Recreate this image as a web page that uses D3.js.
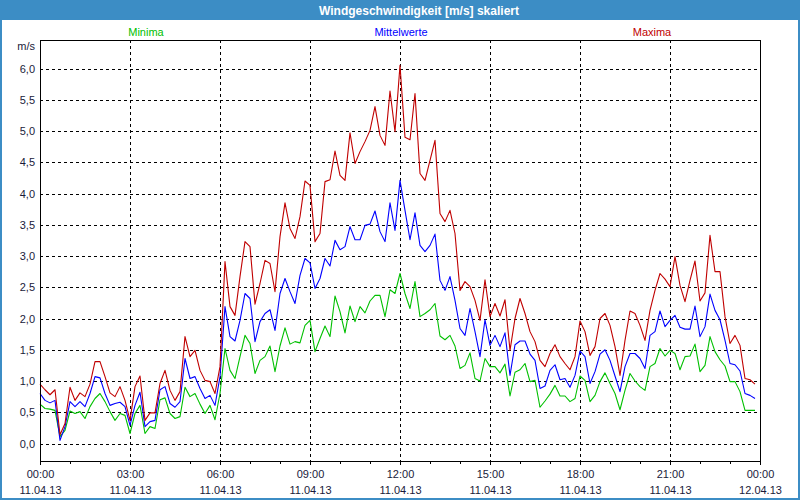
<!DOCTYPE html>
<html>
<head>
<meta charset="utf-8">
<script src="https://cdn.jsdelivr.net/npm/d3@7"></script>
<style>
  body { margin: 0; background: #fff; }
  svg text { font-family: "Liberation Sans", Arial, sans-serif; font-size: 11px; fill: #1a1a3a; }
</style>
</head>
<body>
<div id="chart"></div>
<script>
// 10-minute values, 11.04.13 00:00 .. 23:50
const minima = [0.63,0.56,0.55,0.53,0.11,0.21,0.52,0.48,0.51,0.40,0.59,0.72,0.80,0.67,0.51,0.37,0.48,0.45,0.16,0.48,
  0.61,0.16,0.27,0.24,0.70,0.73,0.48,0.40,0.43,0.90,0.75,0.80,0.63,0.48,0.61,0.38,0.80,1.52,1.17,1.04,
  1.39,1.73,1.60,1.12,1.33,1.39,1.56,1.15,1.56,1.85,1.59,1.63,1.61,1.89,1.97,1.47,1.68,1.88,1.71,2.36,
  2.11,1.77,2.20,1.95,2.19,2.09,2.28,2.37,2.37,2.03,2.46,2.40,2.72,2.40,2.16,2.59,2.03,2.08,2.14,2.24,
  1.72,1.66,1.73,1.56,1.20,1.25,1.45,1.04,1.00,1.36,1.23,1.23,1.13,1.27,0.76,1.14,1.18,1.28,0.99,1.01,
  0.58,0.68,0.79,0.93,0.76,0.76,0.67,0.72,1.08,1.01,0.67,0.77,0.99,1.13,0.96,0.80,0.54,0.85,1.12,1.00,
  0.91,0.85,1.23,1.28,1.52,1.40,1.49,1.44,1.18,1.39,1.40,1.59,1.15,1.25,1.71,1.47,1.34,1.24,0.99,0.99,
  0.83,0.53,0.53,0.53];
const mittelwerte = [0.80,0.69,0.65,0.69,0.05,0.27,0.67,0.59,0.67,0.59,0.80,1.07,1.05,0.80,0.61,0.64,0.66,0.59,0.29,0.61,
  0.82,0.27,0.35,0.37,0.86,0.91,0.64,0.58,0.67,1.36,1.04,1.07,0.88,0.72,0.77,0.61,1.07,2.19,1.71,1.64,
  1.97,2.40,2.32,1.63,1.95,2.08,2.14,1.81,2.40,2.64,2.43,2.24,2.69,2.96,2.89,2.48,2.64,2.96,2.84,3.25,
  3.10,3.15,3.47,3.26,3.26,3.49,3.51,3.72,3.39,3.23,3.85,3.41,4.21,3.73,3.26,3.69,3.17,3.07,3.17,3.35,
  2.61,2.45,2.67,2.29,1.84,1.73,2.16,1.79,1.39,1.98,1.57,1.73,1.55,1.77,1.09,1.58,1.64,1.64,1.43,1.33,
  0.88,0.92,1.17,1.26,1.02,1.04,0.90,1.09,1.48,1.39,0.96,1.15,1.43,1.50,1.33,1.08,0.83,1.23,1.44,1.44,
  1.36,1.20,1.73,1.79,2.12,1.87,1.97,2.05,1.86,1.83,1.83,2.20,1.71,1.87,2.39,2.13,1.98,1.65,1.28,1.26,
  1.16,0.80,0.77,0.72];
const maxima = [0.95,0.86,0.78,0.86,0.14,0.32,0.90,0.69,0.81,0.75,0.95,1.31,1.31,1.07,0.81,0.75,0.91,0.69,0.37,0.91,
  1.08,0.37,0.49,0.49,0.96,1.17,0.85,0.69,0.83,1.71,1.39,1.49,1.17,1.01,0.99,0.80,1.23,2.91,2.19,2.05,
  2.67,3.23,3.15,2.23,2.56,2.93,2.88,2.43,3.31,3.85,3.44,3.28,3.63,4.20,4.13,3.23,3.36,4.19,4.22,4.68,
  4.29,4.21,4.97,4.48,4.67,4.83,5.01,5.39,4.93,4.77,5.64,4.99,6.05,4.90,4.86,5.60,4.32,4.21,4.53,4.85,
  3.68,3.55,3.73,3.36,2.45,2.59,2.51,2.29,1.97,2.62,2.03,2.24,2.04,2.30,1.49,2.00,2.32,2.08,1.79,1.63,
  1.33,1.23,1.44,1.58,1.39,1.28,1.18,1.39,1.96,1.79,1.41,1.55,2.00,2.08,1.89,1.55,1.09,1.65,2.12,2.08,
  1.89,1.65,2.13,2.45,2.72,2.63,2.51,2.99,2.53,2.27,2.61,2.92,2.28,2.41,3.33,2.75,2.75,2.03,1.60,1.73,
  1.57,1.04,1.02,0.95];

const yTicks = [0, 0.5, 1, 1.5, 2, 2.5, 3, 3.5, 4, 4.5, 5, 5.5, 6];
const xTickHours = [0, 3, 6, 9, 12, 15, 18, 21, 24];
const seriesNames = ["Minima", "Mittelwerte", "Maxima"];
const seriesColors = ["#00c000", "#0000ff", "#c00000"];
const startTime = new Date(2013, 3, 11, 0, 0);
const stepMinutes = 10;

const W = 800, H = 500;
const frame = { left: 40, right: 760, top: 40, bottom: 461 };
const blue = "#3c8dc5";

const svg = d3.select("#chart").append("svg")
  .attr("width", W).attr("height", H);

// window chrome
svg.append("rect").attr("x", 0).attr("y", 0).attr("width", W).attr("height", H).attr("fill", "#fff");
svg.append("rect").attr("x", 0).attr("y", 0).attr("width", W).attr("height", 20).attr("fill", blue);
svg.append("rect").attr("x", 1).attr("y", 1).attr("width", W - 2).attr("height", H - 2)
  .attr("fill", "none").attr("stroke", blue).attr("stroke-width", 2);
svg.append("text").attr("x", 419).attr("y", 14.5).attr("text-anchor", "middle")
  .style("fill", "#fff").style("font-weight", "bold").style("font-size", "12px")
  .text("Windgeschwindigkeit [m/s] skaliert");

const xScale = d3.scaleTime()
  .domain([startTime, d3.timeHour.offset(startTime, 24)])
  .range([frame.left, frame.right]);

const yScale = d3.scaleLinear()
  .domain([0, 6])
  .range([443.5, 68.5]);

const timeOf = i => d3.timeMinute.offset(startTime, i * stepMinutes);
const xTicks = xTickHours.map(h => d3.timeHour.offset(startTime, h));

// grid
const grid = svg.append("g").attr("stroke", "#000").attr("stroke-dasharray", "3,3")
  .attr("shape-rendering", "crispEdges");
grid.selectAll(".hg").data(yTicks).join("line")
  .attr("x1", frame.left).attr("x2", frame.right)
  .attr("y1", d => Math.round(yScale(d)) + 0.5).attr("y2", d => Math.round(yScale(d)) + 0.5);
grid.selectAll(".vg").data(xTicks.slice(1, -1)).join("line")
  .attr("x1", d => Math.round(xScale(d)) + 0.5).attr("x2", d => Math.round(xScale(d)) + 0.5)
  .attr("y1", frame.top).attr("y2", frame.bottom);

// y labels
const fmt = d3.format(".1f");
svg.append("g").selectAll("text").data(yTicks).join("text")
  .attr("x", 35).attr("y", d => yScale(d) + 4)
  .attr("text-anchor", "end")
  .text(d => fmt(d).replace(".", ","));
svg.append("text").attr("x", 35).attr("y", 50).attr("text-anchor", "end").text("m/s");

// x axis with hourly minor ticks
const xAxisMinor = d3.axisBottom(xScale)
  .tickValues(d3.range(0, 25).map(h => d3.timeHour.offset(startTime, h)))
  .tickSize(3).tickFormat("");
svg.append("g").attr("transform", `translate(0,${frame.bottom})`).call(xAxisMinor)
  .call(g => g.select(".domain").remove())
  .selectAll("line").attr("stroke", "#000").attr("shape-rendering", "crispEdges");

const xAxis = d3.axisBottom(xScale).tickValues(xTicks).tickSize(4).tickPadding(5)
  .tickFormat(d3.timeFormat("%H:%M"));
const xg = svg.append("g").attr("transform", `translate(0,${frame.bottom})`).call(xAxis);
xg.select(".domain").remove();
xg.selectAll("line").attr("stroke", "#000").attr("shape-rendering", "crispEdges");
xg.selectAll("text").attr("font-family", null).attr("font-size", null)
  .each(function(d) {
    const t = d3.select(this);
    t.text(null);
    t.append("tspan").attr("x", 0).attr("dy", "0.71em").text(d3.timeFormat("%H:%M")(d));
    t.append("tspan").attr("x", 0).attr("dy", "1.45em").text(d3.timeFormat("%d.%m.%y")(d));
  });

// series
const allSeries = [minima, mittelwerte, maxima];
const line = d3.line()
  .x((d, i) => xScale(timeOf(i)))
  .y(d => yScale(d));
svg.append("g").selectAll("path").data(allSeries).join("path")
  .attr("d", d => line(d))
  .attr("fill", "none")
  .attr("stroke", (d, i) => seriesColors[i])
  .attr("stroke-width", 1.1)
  .attr("stroke-linejoin", "round");

// frame
svg.append("rect")
  .attr("x", frame.left + 0.5).attr("y", frame.top + 0.5)
  .attr("width", frame.right - frame.left).attr("height", frame.bottom - frame.top)
  .attr("fill", "none").attr("stroke", "#000").attr("shape-rendering", "crispEdges");

// legend labels
const legendX = [146, 401, 652];
svg.append("g").selectAll("text").data(seriesNames).join("text")
  .attr("x", (d, i) => legendX[i]).attr("y", 36)
  .attr("text-anchor", "middle")
  .style("fill", (d, i) => seriesColors[i])
  .text(d => d);
</script>
</body>
</html>
